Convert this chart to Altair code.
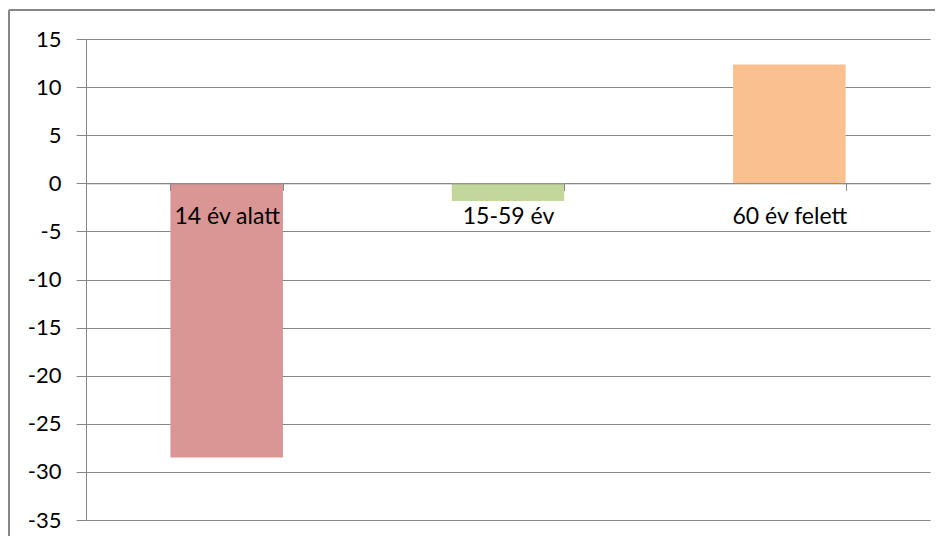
import altair as alt
import pandas as pd

categories = ["14 év alatt", "15-59 év", "60 év felett"]
values = [-28.5, -1.85, 12.35]
colors = ["#D99694", "#C3D69B", "#FAC090"]
y_ticks = [-35, -30, -25, -20, -15, -10, -5, 0, 5, 10, 15]

Y_MIN, Y_MAX = -35, 15
W, H = 844, 481
GRAY = "#868686"
FONT = "Lato"

df = pd.DataFrame({"cat": categories, "val": values, "color": colors})

zero_offset = -(H * (0 - Y_MIN) / (Y_MAX - Y_MIN))

bars = alt.Chart(df).mark_bar().encode(
    x=alt.X(
        "cat:N",
        sort=categories,
        scale=alt.Scale(paddingInner=0.6, paddingOuter=0.3),
        axis=alt.Axis(
            title=None,
            orient="bottom",
            offset=zero_offset,
            domainColor=GRAY,
            domainWidth=1,
            tickColor=GRAY,
            tickSize=7,
            tickBand="extent",
            labelFont=FONT,
            labelFontSize=23,
            labelColor="#000000",
            labelBaseline="alphabetic",
            labelPadding=33,
            labelAngle=0,
            grid=False,
            zindex=1,
        ),
    ),
    y=alt.Y(
        "val:Q",
        scale=alt.Scale(domain=[Y_MIN, Y_MAX], nice=False, zero=False),
        axis=alt.Axis(
            values=y_ticks,
            title=None,
            grid=True,
            gridColor=GRAY,
            gridWidth=1,
            domainColor=GRAY,
            tickColor=GRAY,
            tickSize=10,
            labelPadding=15,
            labelFont=FONT,
            labelFontSize=22,
            labelColor="#000000",
            labelExpr="'' + datum.value",
        ),
    ),
    color=alt.Color("color:N", scale=None),
)

frame = pd.DataFrame({"k": [0]})
left_border = alt.Chart(frame).mark_rule(color=GRAY, strokeWidth=2).encode(
    x=alt.value(-77), y=alt.value(-29), y2=alt.value(H + 80)
)
top_border = alt.Chart(frame).mark_rule(color=GRAY, strokeWidth=2).encode(
    y=alt.value(-29), x=alt.value(-77), x2=alt.value(W + 80)
)

chart = alt.layer(bars, left_border, top_border).properties(
    width=W,
    height=H,
    autosize=alt.AutoSizeParams(type="none"),
    padding={"left": 78, "top": 31, "right": 5, "bottom": 16},
).configure_view(strokeWidth=0)

chart.save("out.html", embed_options={"renderer": "svg", "actions": False})
